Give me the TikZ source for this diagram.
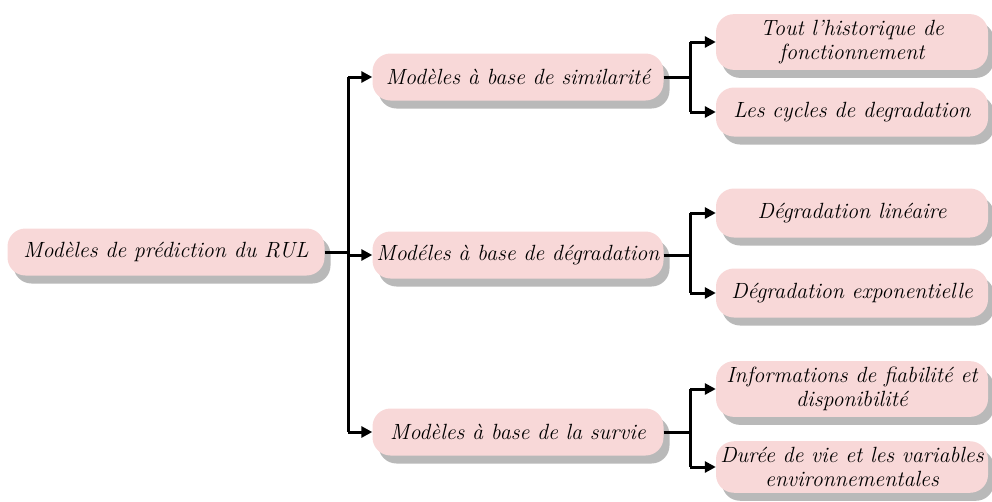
\documentclass[tikz,border=0pt]{standalone}
\usetikzlibrary{arrows.meta,shadows}
\definecolor{boxfill}{RGB}{248,216,216}
\definecolor{boxshadow}{RGB}{185,185,185}
\begin{document}
\begin{tikzpicture}[x=1pt,y=-1pt,
  pill/.style={rounded corners=18pt, fill=boxfill, inner xsep=2pt, inner ysep=6pt,
    font=\fontsize{22}{24}\selectfont\itshape, align=center,
    general shadow={shadow xshift=6pt, shadow yshift=-8pt, fill=boxshadow}},
  rootbox/.style={pill, minimum width=317pt, minimum height=47pt},
  midbox/.style={pill, minimum width=291pt, minimum height=47pt},
  leafbox/.style={pill, minimum width=272pt, minimum height=49pt},
  link/.style={line width=3pt, -{Triangle[length=11pt,width=11pt]}},
  trunk/.style={line width=3pt}]
\useasboundingbox (0,0) rectangle (992,501);

% root
\node[rootbox] (root) at (166,252) {Modèles de prédiction du RUL};

% families of models
\node[midbox] (sim) at (518,77)  {Modèles à base de similarité};
\node[midbox] (deg) at (518,255) {Modéles à base de dégradation};
\node[midbox] (sur) at (518,432) {Modèles à base de la survie};

% leaves
\node[leafbox] (hist) at (852,42)  {Tout l'historique de\\fonctionnement};
\node[leafbox] (cyc)  at (852,112) {Les cycles de degradation};
\node[leafbox] (lin)  at (852,213) {Dégradation linéaire};
\node[leafbox] (exp)  at (852,293) {Dégradation exponentielle};
\node[leafbox] (fia)  at (852,389) {Informations de fiabilité et\\disponibilité};
\node[leafbox] (dur)  at (852,467) {Durée de vie et les variables\\environnementales};

% branch points
\coordinate (rb) at (348,252);
\coordinate (sb) at (690,77);
\coordinate (db) at (690,255);
\coordinate (vb) at (690,432);

% root to families
\draw[trunk] (root.east) -- (rb);
\draw[trunk] (rb |- sim) -- (rb |- sur);
\draw[link] (rb |- sim) -- (sim.west);
\draw[link] (rb |- deg) -- (deg.west);
\draw[link] (rb |- sur) -- (sur.west);

% families to leaves
\draw[trunk] (sim.east) -- (sb);
\draw[trunk] (sb |- hist) -- (sb |- cyc);
\draw[link] (sb |- hist) -- (hist.west);
\draw[link] (sb |- cyc) -- (cyc.west);

\draw[trunk] (deg.east) -- (db);
\draw[trunk] (db |- lin) -- (db |- exp);
\draw[link] (db |- lin) -- (lin.west);
\draw[link] (db |- exp) -- (exp.west);

\draw[trunk] (sur.east) -- (vb);
\draw[trunk] (vb |- fia) -- (vb |- dur);
\draw[link] (vb |- fia) -- (fia.west);
\draw[link] (vb |- dur) -- (dur.west);
\end{tikzpicture}
\end{document}
